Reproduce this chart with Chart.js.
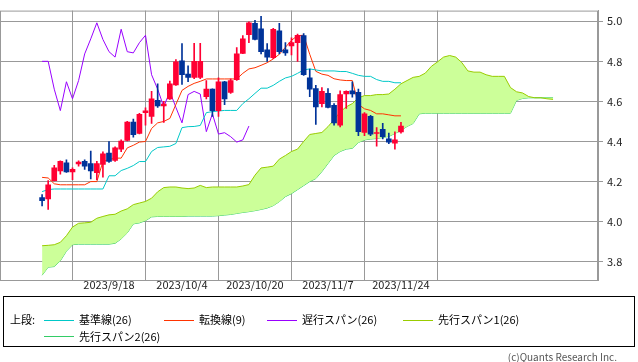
<!DOCTYPE html>
<html>
<head>
<meta charset="utf-8">
<script src="https://cdn.jsdelivr.net/npm/chart.js@4.4.0/dist/chart.umd.min.js"></script>
<style>
  body { margin: 0; background: #fff; font-family: "Noto Sans CJK JP", sans-serif; }
  #wrap { position: absolute; left: 0; top: 0; width: 638px; height: 300px; }
  #legend { position: absolute; left: 3px; top: 296px; width: 630px; height: 49px; border: 1px solid #000; font-size: 11px; color: #000; }
  .item { position: absolute; white-space: nowrap; line-height: 16px; }
  .swatch { position: absolute; height: 0; width: 30px; border-top: 1px solid; }
  #copy { position: absolute; right: 21px; top: 349px; font-size: 10px; color: #555; }
</style>
</head>
<body>
<div id="wrap"><canvas id="ichimoku" width="638" height="300"></canvas></div>
<div id="legend"></div>
<div id="copy">(c)Quants Research Inc.</div>
<script>
// x axis: bar index, 0 = 2023/8/31
const tickIdx = [11, 23, 35, 47, 59];
const tickLabels = ['2023/9/18', '2023/10/4', '2023/10/20', '2023/11/7', '2023/11/24'];
const yTicks = [3.8, 4.0, 4.2, 4.4, 4.6, 4.8, 5.0];

const opens = [4.120, 4.113, 4.205, 4.253, 4.293, 4.248, 4.288, 4.301, 4.290, 4.245,
  4.285, 4.342, 4.305, 4.362, 4.405, 4.497, 4.440, 4.544, 4.525, 4.605,
  4.578, 4.613, 4.682, 4.802, 4.736, 4.720, 4.720, 4.624, 4.661, 4.554,
  4.698, 4.645, 4.709, 4.840, 4.933, 4.989, 4.962, 4.857, 4.818, 4.952,
  4.857, 4.877, 4.893, 4.928, 4.717, 4.664, 4.589, 4.640, 4.581, 4.482,
  4.637, 4.653, 4.645, 4.445, 4.525, 4.440, 4.461, 4.413, 4.392, 4.448];
const highs = [4.135, 4.205, 4.281, 4.304, 4.309, 4.269, 4.304, 4.309, 4.352, 4.301,
  4.348, 4.400, 4.373, 4.408, 4.500, 4.512, 4.541, 4.568, 4.650, 4.688,
  4.600, 4.701, 4.809, 4.888, 4.778, 4.890, 4.890, 4.704, 4.663, 4.717,
  4.700, 4.713, 4.869, 4.928, 4.997, 5.005, 5.024, 4.888, 4.965, 4.989,
  4.893, 4.917, 4.936, 4.938, 4.761, 4.680, 4.669, 4.664, 4.589, 4.653,
  4.653, 4.698, 4.661, 4.544, 4.530, 4.469, 4.490, 4.442, 4.448, 4.496];
const lows = [4.078, 4.061, 4.203, 4.237, 4.246, 4.209, 4.277, 4.261, 4.213, 4.209,
  4.222, 4.295, 4.301, 4.349, 4.403, 4.421, 4.438, 4.482, 4.490, 4.570,
  4.495, 4.610, 4.680, 4.685, 4.698, 4.713, 4.713, 4.613, 4.525, 4.525,
  4.584, 4.640, 4.705, 4.838, 4.893, 4.907, 4.837, 4.800, 4.813, 4.837,
  4.829, 4.832, 4.800, 4.730, 4.624, 4.485, 4.573, 4.568, 4.482, 4.473,
  4.565, 4.621, 4.429, 4.429, 4.429, 4.377, 4.413, 4.389, 4.362, 4.442];
const closes = [4.105, 4.184, 4.269, 4.301, 4.248, 4.261, 4.297, 4.277, 4.253, 4.290,
  4.338, 4.301, 4.368, 4.402, 4.497, 4.434, 4.536, 4.553, 4.613, 4.578,
  4.587, 4.688, 4.797, 4.733, 4.720, 4.800, 4.800, 4.661, 4.554, 4.698,
  4.613, 4.704, 4.837, 4.912, 4.992, 4.909, 4.848, 4.821, 4.960, 4.848,
  4.842, 4.893, 4.930, 4.733, 4.661, 4.573, 4.650, 4.570, 4.493, 4.634,
  4.650, 4.637, 4.449, 4.538, 4.437, 4.444, 4.424, 4.397, 4.408, 4.477];

// 転換線(9)
const tenkan = [4.221, 4.218, 4.189, 4.184, 4.184, 4.184, 4.184, 4.184, 4.200, 4.200,
  4.300, 4.310, 4.317, 4.317, 4.368, 4.381, 4.397, 4.400, 4.465, 4.493,
  4.500, 4.515, 4.585, 4.655, 4.675, 4.690, 4.700, 4.712, 4.712, 4.712,
  4.712, 4.712, 4.712, 4.740, 4.762, 4.768, 4.780, 4.793, 4.812, 4.835,
  4.870, 4.905, 4.928, 4.930, 4.835, 4.750, 4.736, 4.730, 4.713, 4.707,
  4.704, 4.704, 4.585, 4.563, 4.555, 4.538, 4.538, 4.533, 4.528, 4.528];
// 基準線(26)
const kijun = [4.150, 4.160, 4.163, 4.163, 4.163, 4.163, 4.163, 4.163, 4.163, 4.163,
  4.163, 4.229, 4.229, 4.255, 4.266, 4.280, 4.300, 4.300, 4.350, 4.370,
  4.373, 4.376, 4.390, 4.469, 4.474, 4.475, 4.480, 4.544, 4.549, 4.552,
  4.555, 4.555, 4.555, 4.589, 4.613, 4.640, 4.666, 4.666, 4.680, 4.700,
  4.717, 4.725, 4.740, 4.757, 4.762, 4.757, 4.752, 4.752, 4.752, 4.749,
  4.749, 4.740, 4.730, 4.725, 4.725, 4.709, 4.700, 4.700, 4.693, 4.693];
// 先行スパン1, 2 (already shifted: index 0..84)
const span1 = [3.880, 3.882, 3.885, 3.897, 3.930, 3.973, 3.992, 3.994, 3.997, 4.017,
  4.026, 4.034, 4.037, 4.053, 4.064, 4.085, 4.093, 4.101, 4.117, 4.149,
  4.170, 4.173, 4.173, 4.168, 4.165, 4.168, 4.181, 4.170, 4.173, 4.173,
  4.173, 4.173, 4.173, 4.178, 4.185, 4.232, 4.268, 4.272, 4.277, 4.312,
  4.330, 4.350, 4.362, 4.400, 4.435, 4.440, 4.445, 4.474, 4.509, 4.547,
  4.573, 4.589, 4.618, 4.629, 4.629, 4.634, 4.634, 4.637, 4.661, 4.688,
  4.704, 4.720, 4.725, 4.741, 4.775, 4.797, 4.821, 4.829, 4.821, 4.794,
  4.752, 4.746, 4.746, 4.733, 4.725, 4.725, 4.725, 4.669, 4.648, 4.642,
  4.624, 4.618, 4.618, 4.613, 4.610];
const span2 = [3.733, 3.773, 3.776, 3.805, 3.853, 3.885, 3.888, 3.888, 3.888, 3.888,
  3.888, 3.888, 3.892, 3.914, 3.944, 3.989, 3.994, 4.005, 4.024, 4.026,
  4.026, 4.026, 4.026, 4.026, 4.028, 4.028, 4.028, 4.028, 4.028, 4.030,
  4.033, 4.036, 4.041, 4.046, 4.050, 4.055, 4.061, 4.068, 4.080, 4.100,
  4.125, 4.140, 4.160, 4.180, 4.200, 4.215, 4.250, 4.290, 4.330, 4.350,
  4.362, 4.366, 4.395, 4.408, 4.412, 4.415, 4.420, 4.425, 4.440, 4.455,
  4.475, 4.490, 4.538, 4.541, 4.541, 4.541, 4.541, 4.541, 4.541, 4.541,
  4.541, 4.541, 4.541, 4.541, 4.541, 4.541, 4.541, 4.541, 4.605, 4.615,
  4.618, 4.618, 4.618, 4.618, 4.618];
const CHIKOU_SHIFT = 25;

const colors = {
  kijun: '#00c8c8', tenkan: '#ff3300', chikou: '#9900ff',
  span1: '#99cc00', span2: '#33cc66', cloud: '#ccff99',
  up: '#ff0033', down: '#003399', grid: '#999999'
};

const pts = (arr, off) => arr.map((v, i) => ({ x: i + off, y: v }));
const candleColors = closes.map((c, i) => c >= opens[i] ? colors.up : colors.down);
const chikou = closes.slice(CHIKOU_SHIFT).map((v, i) => ({ x: i, y: v }));

function lineSet(data, color, order) {
  return { type: 'line', data: data, borderColor: color, borderWidth: 1, pointRadius: 0,
    tension: 0, fill: false, order: order };
}

const framePlugin = {
  id: 'frame',
  beforeDatasetsDraw(chart) {
    const a = chart.chartArea, c = chart.ctx;
    c.save();
    c.strokeStyle = colors.grid;
    c.lineWidth = 1;
    c.strokeRect(a.left + 0.5, a.top + 0.5, a.right - a.left - 1, a.bottom - a.top);
    c.restore();
  }
};

const font = { family: '"Noto Sans CJK JP", sans-serif', size: 11 };

new Chart(document.getElementById('ichimoku').getContext('2d'), {
  type: 'line',
  data: {
    datasets: [
      { type: 'bar', data: closes.map((c, i) => ({ x: i, y: [opens[i], c] })),
        backgroundColor: candleColors, barThickness: 5, minBarLength: 1, grouped: false, order: 0 },
      { type: 'bar', data: closes.map((c, i) => ({ x: i, y: [lows[i], highs[i]] })),
        backgroundColor: candleColors, barThickness: 1, grouped: false, order: 1 },
      lineSet(pts(kijun, 0), colors.kijun, 2),
      lineSet(pts(tenkan, 0), colors.tenkan, 2),
      lineSet(chikou, colors.chikou, 2),
      Object.assign(lineSet(pts(span1, 0), colors.span1, 3), { fill: '+1', backgroundColor: colors.cloud }),
      lineSet(pts(span2, 0), colors.span2, 3)
    ]
  },
  options: {
    responsive: false,
    animation: false,
    devicePixelRatio: 1,
    layout: { padding: 0 },
    plugins: { legend: { display: false }, tooltip: { enabled: false } },
    scales: {
      x: {
        type: 'linear', min: -6.92, max: 91.39, offset: false,
        afterBuildTicks: s => { s.ticks = tickIdx.map(v => ({ value: v })); },
        afterFit: s => { s.height = 20; },
        grid: { color: colors.grid, drawTicks: false },
        border: { color: colors.grid },
        ticks: { padding: -2, color: '#222', font: font, maxRotation: 0, autoSkip: false,
          callback: v => tickLabels[tickIdx.indexOf(v)] }
      },
      y: {
        position: 'right', min: 3.709, max: 5.053,
        afterBuildTicks: s => { s.ticks = yTicks.map(v => ({ value: v })); },
        afterFit: s => { s.width = 40; },
        grid: { color: colors.grid, tickLength: 5 },
        border: { color: colors.grid },
        ticks: { padding: 4, color: '#222', font: font, callback: v => v.toFixed(1) }
      }
    }
  },
  plugins: [framePlugin]
});

// legend box
const legendItems = [
  { label: '基準線(26)', color: colors.kijun, left: 40, top: 14, line: 23 },
  { label: '転換線(9)', color: colors.tenkan, left: 160, top: 14, line: 23 },
  { label: '遅行スパン(26)', color: colors.chikou, left: 263, top: 14, line: 23 },
  { label: '先行スパン1(26)', color: colors.span1, left: 399, top: 14, line: 23 },
  { label: '先行スパン2(26)', color: colors.span2, left: 40, top: 31, line: 39 }
];
const legend = document.getElementById('legend');
legend.innerHTML = '<div class="item" style="left:6px;top:14px">上段:</div>';
legendItems.forEach(it => {
  legend.innerHTML += `<div class="swatch" style="left:${it.left}px;top:${it.line}px;border-color:${it.color}"></div>` +
    `<div class="item" style="left:${it.left + 35}px;top:${it.top}px">${it.label}</div>`;
});
</script>
</body>
</html>
